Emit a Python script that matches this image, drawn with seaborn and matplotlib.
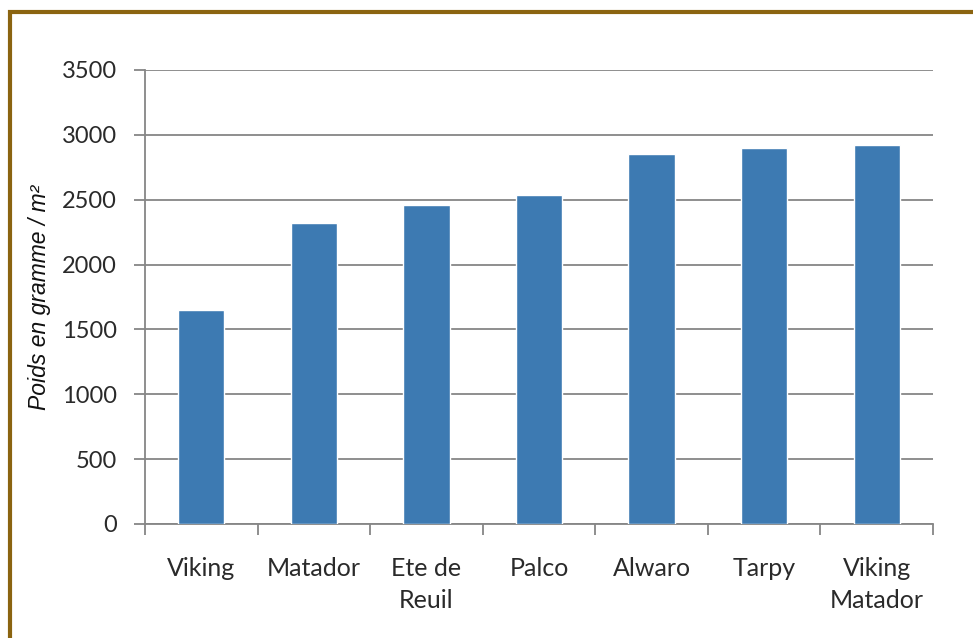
import numpy as np
import pandas as pd
import matplotlib.pyplot as plt
import seaborn as sns
from matplotlib.patches import Rectangle

varieties = ["Viking", "Matador", "Ete de\nReuil", "Palco", "Alwaro", "Tarpy", "Viking\nMatador"]
poids = [1650, 2320, 2460, 2540, 2850, 2900, 2920]
yticks = [0, 500, 1000, 1500, 2000, 2500, 3000, 3500]

df = pd.DataFrame({"variete": varieties, "poids": poids})

sns.set_style("white")
plt.rcParams['font.family'] = ['Lato', 'DejaVu Sans']

fig = plt.figure(figsize=(9.73, 6.38), dpi=100)
ax = fig.add_axes([145 / 973, 1 - 524 / 638, (933 - 145) / 973, (524 - 70) / 638])

sns.barplot(data=df, x="variete", y="poids", color="#3d7ab2", width=0.41,
            saturation=1, ax=ax, zorder=3)

ax.set_ylim(0, 3500)
ax.set_xlim(-0.5, 6.5)
ax.set_yticks(yticks)
ax.yaxis.grid(True, color="#868686", linewidth=1.3, zorder=0)
ax.set_axisbelow(True)
for s in ["top", "right"]:
    ax.spines[s].set_visible(False)
for s in ["left", "bottom"]:
    ax.spines[s].set_color("#868686")
    ax.spines[s].set_linewidth(1.3)

ax.tick_params(axis="y", direction="out", length=8, width=1.3, color="#868686",
               labelsize=17, labelcolor="#2a2a2a", pad=12, left=True)
ax.set_xticks(np.arange(len(varieties)))
ax.set_xticklabels(varieties, fontsize=18, color="#2a2a2a", linespacing=1.45, va="top")
ax.set_xticks(np.arange(-0.5, len(varieties)), minor=True)
ax.tick_params(axis="x", which="major", length=0, pad=24)
ax.tick_params(axis="x", which="minor", direction="out", length=8, width=1.3,
               color="#868686", bottom=True)
ax.set_xlabel("")
ax.set_ylabel("Poids en gramme / m²", fontsize=16.5, style="italic",
              family="Liberation Sans", color="#111111", labelpad=8)

fig.patches.append(Rectangle((10 / 973, -0.1), 1.2, 1 - 12 / 638 + 0.1,
                             transform=fig.transFigure, fill=False,
                             edgecolor="#8b6410", linewidth=3))

fig.savefig("out.png", dpi=100)
